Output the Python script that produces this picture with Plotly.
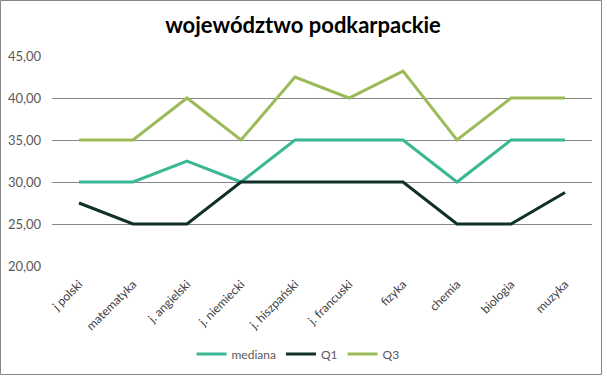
import plotly.graph_objects as go

categories = ["j polski", "matematyka", "j. angielski", "j. niemiecki", "j. hiszpański",
              "j. francuski", "fizyka", "chemia", "biologia", "muzyka"]
mediana = [30, 30, 32.5, 30, 35, 35, 35, 30, 35, 35]
q1 = [27.5, 25, 25, 30, 30, 30, 30, 25, 25, 28.75]
q3 = [35, 35, 40, 35, 42.5, 40, 43.2, 35, 40, 40]
y_ticks = [20, 25, 30, 35, 40, 45]

W, H = 607, 376
ml, mr, mt, mb = 52, 15, 56, 110
pw, ph = W - ml - mr, H - mt - mb

fig = go.Figure()
fig.add_trace(go.Scatter(x=categories, y=mediana, name="mediana", mode="lines",
                         line=dict(color="#3AB894", width=3)))
fig.add_trace(go.Scatter(x=categories, y=q1, name="Q1", mode="lines",
                         line=dict(color="#10302A", width=3)))
fig.add_trace(go.Scatter(x=categories, y=q3, name="Q3", mode="lines",
                         line=dict(color="#9BBB59", width=3)))

def px2paper_x(px):
    return (px - ml) / pw

def px2paper_y(py):
    return 1 - (py - mt) / ph

fig.add_shape(type="rect", xref="paper", yref="paper",
              x0=px2paper_x(0.5), x1=px2paper_x(601.5),
              y0=px2paper_y(374.5), y1=px2paper_y(0.5),
              line=dict(color="#868686", width=1), fillcolor="rgba(0,0,0,0)", layer="below")

fig.update_layout(
    width=W, height=H,
    margin=dict(l=ml, r=mr, t=mt, b=mb, autoexpand=False),
    paper_bgcolor="white", plot_bgcolor="white",
    separators=", ",
    font=dict(family="Lato, 'Open Sans', sans-serif", color="#595959", size=12),
    title=dict(text="<b>województwo podkarpackie</b>", x=px2paper_x(303), xref="paper",
               xanchor="center", y=1 - 25 / H, yanchor="middle",
               font=dict(size=22, color="#000000", family="Lato, 'Open Sans', sans-serif")),
    xaxis=dict(type="category", range=[-0.5, 9.5], tickangle=-45, showgrid=False,
               showline=False, ticks="", tickfont=dict(size=12, color="#404040"),
               ticklabelstandoff=8, automargin=False),
    yaxis=dict(range=[20, 45], tickvals=y_ticks, tickformat=".2f", showgrid=True,
               gridcolor="#868686", gridwidth=1, zeroline=False, showline=False,
               ticks="", tickfont=dict(size=13, color="#595959"), ticklabelstandoff=10,
               automargin=False),
    legend=dict(orientation="h", x=px2paper_x(298), xanchor="center", xref="paper",
                y=1 - 354 / H, yref="container", yanchor="middle",
                font=dict(size=12, color="#595959"), itemwidth=30),
    showlegend=True,
)

fig.write_html("out.html", config={"displayModeBar": False},
               post_script="document.body.style.margin='0';")
